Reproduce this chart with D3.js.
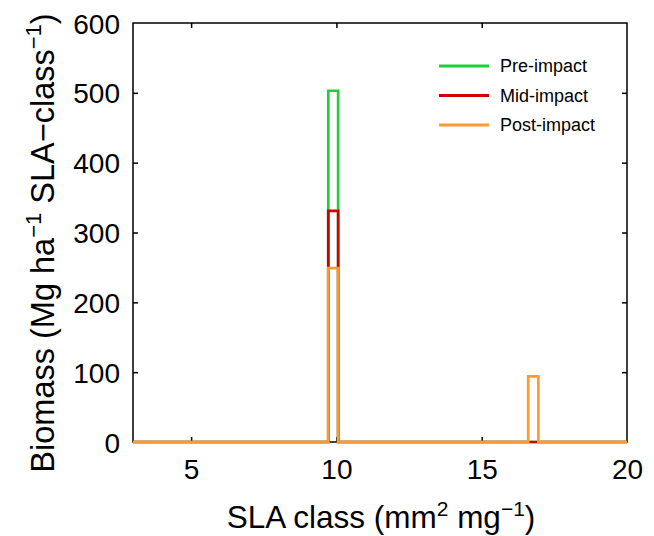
<!DOCTYPE html>
<html><head><meta charset="utf-8">
<script src="https://cdn.jsdelivr.net/npm/d3@7"></script>
<style>body{margin:0;background:#fff}svg{display:block}text{font-family:"Liberation Sans",Arial,sans-serif}</style>
</head><body><svg id="c" width="654" height="536"></svg>
<script>
// Data
const seriesNames = ["Pre-impact", "Mid-impact", "Post-impact"];
const seriesColors = ["#1fcf3a", "#cc0000", "#ff9933"];
const binLeft = [9.72, 16.6];
const binRight = [10.06, 16.95];
const preImpact = [503, 0];
const midImpact = [331, 0];
const postImpact = [249, 94];
const xTicks = [5, 10, 15, 20];
const yTicks = [0, 100, 200, 300, 400, 500, 600];
const xDomain = [3, 20];
const yDomain = [0, 600];

const svg = d3.select("#c");
const L = 133, R = 627, T = 23, B = 442;
const x = d3.scaleLinear().domain(xDomain).range([L, R]);
const y = d3.scaleLinear().domain(yDomain).range([B, T]);

// frame
svg.append("rect").attr("x", L).attr("y", T).attr("width", R - L).attr("height", B - T)
  .attr("fill", "none").attr("stroke", "#000").attr("stroke-width", 1.5);

// axes with inward ticks
const tickLen = 5;
const ax = d3.axisBottom(x).tickValues(xTicks).tickSize(-tickLen).tickPadding(17).tickFormat(d3.format("d"));
const gx = svg.append("g").attr("transform", `translate(0,${B})`).call(ax);
const axT = d3.axisTop(x).tickValues(xTicks.filter(d => d < 20)).tickSize(-tickLen).tickFormat("");
const gxt = svg.append("g").attr("transform", `translate(0,${T})`).call(axT);
const ay = d3.axisLeft(y).tickValues(yTicks).tickSize(-tickLen).tickPadding(13).tickFormat(d3.format("d"));
const gy = svg.append("g").attr("transform", `translate(${L},0)`).call(ay);
const ayR = d3.axisRight(y).tickValues(yTicks.filter(d => d > 0 && d < 600)).tickSize(-tickLen).tickFormat("");
const gyr = svg.append("g").attr("transform", `translate(${R},0)`).call(ayR);
[gx, gxt, gy, gyr].forEach(g => {
  g.select(".domain").remove();
  g.selectAll(".tick line").attr("stroke", "#000").attr("stroke-width", 1.5);
  g.selectAll(".tick text").attr("fill", "#000").style("font-size", "28px");
});
gx.selectAll(".tick text").attr("dy", "0.71em");
gy.selectAll(".tick text").attr("dy", "0.36em");
gx.selectAll(".tick").filter(d => d === 20).select("line").remove();
gy.selectAll(".tick").filter(d => d === 0 || d === 600).select("line").remove();

// series outlines (histogram stairs)
const seriesVals = [preImpact, midImpact, postImpact];
seriesVals.forEach((vals, si) => {
  const pts = [[xDomain[0], 0]];
  vals.forEach((v, i) => {
    pts.push([binLeft[i], 0], [binLeft[i], v], [binRight[i], v], [binRight[i], 0]);
  });
  pts.push([xDomain[1], 0]);
  svg.append("path").attr("d", d3.line().x(d => x(d[0])).y(d => y(d[1]))(pts))
    .attr("fill", "none").attr("stroke", seriesColors[si]).attr("stroke-width", 2.7)
    .attr("stroke-linejoin", "miter");
});

// legend
const lg = svg.append("g");
seriesNames.forEach((n, i) => {
  const yy = 66 + i * 29.5;
  lg.append("line").attr("x1", 439).attr("x2", 489).attr("y1", yy).attr("y2", yy)
    .attr("stroke", seriesColors[i]).attr("stroke-width", 3);
  lg.append("text").attr("x", 500).attr("y", yy).attr("dy", "0.36em").style("font-size", "18px").text(n);
});

// axis labels
const xl = svg.append("text").attr("x", 381).attr("y", 528).attr("text-anchor", "middle").style("font-size", "31.5px");
xl.append("tspan").text("SLA class (mm");
xl.append("tspan").attr("dy", -12).style("font-size", "21px").text("2");
xl.append("tspan").attr("dy", 12).text(" mg");
xl.append("tspan").attr("dy", -12).style("font-size", "21px").text("\u22121");
xl.append("tspan").attr("dy", 12).text(")");

const yl = svg.append("text").attr("transform", "translate(54,243) rotate(-90)").attr("text-anchor", "middle").style("font-size", "32.5px");
yl.append("tspan").text("Biomass (Mg ha");
yl.append("tspan").attr("dy", -13).style("font-size", "22px").text("\u22121");
yl.append("tspan").attr("dy", 13).text(" SLA\u2212class");
yl.append("tspan").attr("dy", -13).style("font-size", "22px").text("\u22121");
yl.append("tspan").attr("dy", 13).text(")");
</script></body></html>
